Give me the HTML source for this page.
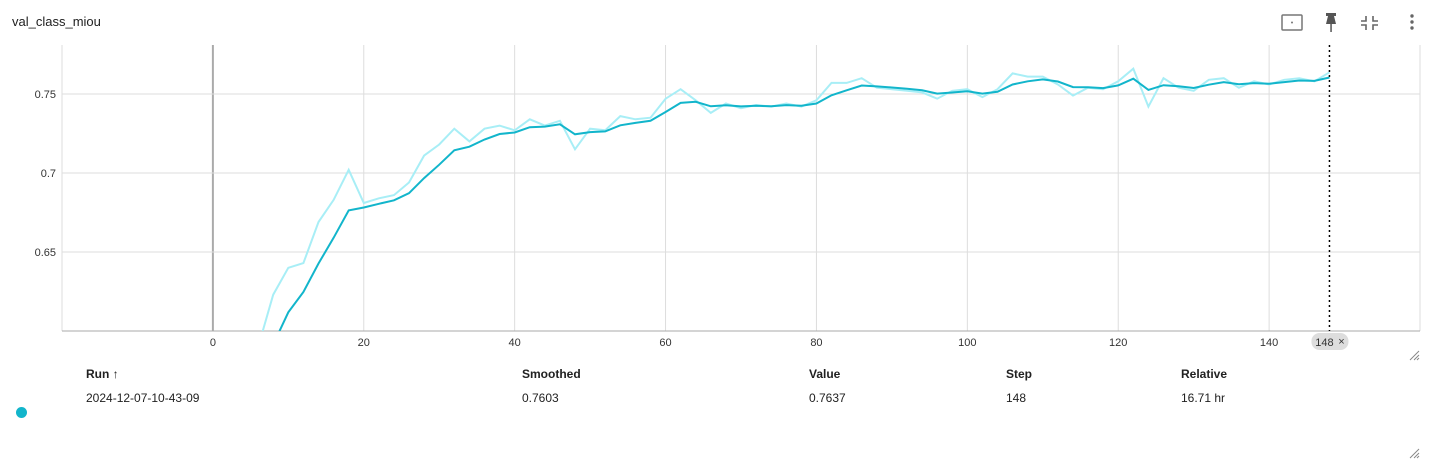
<!DOCTYPE html>
<html><head><meta charset="utf-8"><style>
html,body{margin:0;width:1435px;height:473px;overflow:hidden}
body{background:#fff;font-family:"Liberation Sans",sans-serif;position:relative;color:#212121}
.t{position:absolute;font-size:12px;line-height:14px}
.h{font-weight:bold}
</style></head><body>
<div class="t" style="left:12px;top:15px;font-size:13px">val_class_miou</div>
<svg style="position:absolute;left:1270px;top:0" width="165" height="45">
<g><rect x="12" y="15" width="20" height="15" rx="1" fill="none" stroke="#777" stroke-width="1.5"/><circle cx="22" cy="22.5" r="1" fill="#777"/></g>
<g fill="#555"><rect x="56" y="13" width="10" height="3"/><polygon points="58,16 64,16 66,24 56,24"/><rect x="60.3" y="24" width="1.5" height="8"/></g>
<g stroke="#666" stroke-width="1.6" fill="none"><path d="M91,21h5v-5M103,16v5h5M91,25h5v5M108,25h-5v5"/></g>
<g fill="#666"><circle cx="142" cy="16" r="1.7"/><circle cx="142" cy="22" r="1.7"/><circle cx="142" cy="28" r="1.7"/></g>
</svg>
<svg id="chart" style="position:absolute;left:0;top:0" width="1435" height="360"></svg>
<div class="t h" style="left:86px;top:367px">Run ↑</div>
<div class="t h" style="left:522px;top:367px">Smoothed</div>
<div class="t h" style="left:809px;top:367px">Value</div>
<div class="t h" style="left:1006px;top:367px">Step</div>
<div class="t h" style="left:1181px;top:367px">Relative</div>
<div style="position:absolute;left:16px;top:407px;width:11px;height:11px;border-radius:50%;background:#12b5cb"></div>
<div class="t" style="left:86px;top:391px">2024-12-07-10-43-09</div>
<div class="t" style="left:522px;top:391px">0.7603</div>
<div class="t" style="left:809px;top:391px">0.7637</div>
<div class="t" style="left:1006px;top:391px">148</div>
<div class="t" style="left:1181px;top:391px">16.71 hr</div>
<svg style="position:absolute;left:1407px;top:348px" width="14" height="14"><path d="M3,12L12,3M7,12L12,7M10,12L12,10" stroke="#888" stroke-width="1"/></svg>
<svg style="position:absolute;left:1407px;top:446px" width="14" height="14"><path d="M3,12L12,3M7,12L12,7M10,12L12,10" stroke="#888" stroke-width="1"/></svg>
<script>
const steps=[0,2,4,6,8,10,12,14,16,18,20,22,24,26,28,30,32,34,36,38,40,42,44,46,48,50,52,54,56,58,60,62,64,66,68,70,72,74,76,78,80,82,84,86,88,90,92,94,96,98,100,102,104,106,108,110,112,114,116,118,120,122,124,126,128,130,132,134,136,138,140,142,144,146,148];
const rawValues=[0.50,0.54,0.57,0.59,0.623,0.640,0.643,0.669,0.683,0.702,0.681,0.684,0.686,0.694,0.711,0.718,0.728,0.720,0.728,0.730,0.727,0.734,0.730,0.733,0.715,0.728,0.727,0.736,0.734,0.735,0.747,0.753,0.746,0.738,0.744,0.741,0.743,0.742,0.744,0.742,0.746,0.757,0.757,0.760,0.754,0.753,0.752,0.751,0.747,0.752,0.753,0.748,0.753,0.763,0.761,0.761,0.756,0.749,0.754,0.753,0.758,0.766,0.742,0.760,0.754,0.752,0.759,0.760,0.754,0.758,0.756,0.759,0.760,0.758,0.7637];
const xTicks=[0,20,40,60,80,100,120,140];
const yTicks=[0.65,0.7,0.75];
const smoothingWeight=0.6;
const selectedStep=148;
const NS="http://www.w3.org/2000/svg";
const svg=document.getElementById('chart');
const L=62,R=1420,T=45,B=331;
const xMin=-20,xMax=160,yMin=0.6,yMax=0.781;
const X=s=>L+(s-xMin)/(xMax-xMin)*(R-L);
const Y=v=>B-(v-yMin)/(yMax-yMin)*(B-T);
function mk(tag,attrs){const e=document.createElementNS(NS,tag);for(const k in attrs)e.setAttribute(k,attrs[k]);svg.appendChild(e);return e;}
const defs=mk('defs',{});
const cp=document.createElementNS(NS,'clipPath');cp.setAttribute('id','clip');
const cr=document.createElementNS(NS,'rect');cr.setAttribute('x',L);cr.setAttribute('y',T);cr.setAttribute('width',R-L);cr.setAttribute('height',B-T);cp.appendChild(cr);defs.appendChild(cp);
for(let s=xMin;s<=xMax;s+=20){const g=mk('line',{x1:X(s),x2:X(s),y1:T,y2:B,stroke:s===0?'#aaa':'#ddd','stroke-width':s===0?2:1});

}
yTicks.forEach(v=>{const g=mk('line',{x1:L,x2:R,y1:Y(v),y2:Y(v),stroke:'#ddd','stroke-width':1});


const t=mk('text',{x:56,y:Y(v)+4,'text-anchor':'end','font-size':11,fill:'#333','font-family':'Liberation Sans'});t.textContent=String(v);

});
const ax=mk('line',{x1:L,x2:R,y1:B,y2:B,stroke:'#aaa','stroke-width':1});


xTicks.forEach(s=>{const t=mk('text',{x:X(s),y:346,'text-anchor':'middle','font-size':11,fill:'#333','font-family':'Liberation Sans'});t.textContent=String(s);

});
const smoothed=[];let last=0;rawValues.forEach((v,i)=>{last=last*smoothingWeight+(1-smoothingWeight)*v;smoothed.push(last/(1-Math.pow(smoothingWeight,i+1)));});
const pts=a=>a.map((v,i)=>X(steps[i]).toFixed(1)+','+Y(v).toFixed(1)).join(' ');
const rl=mk('polyline',{points:pts(rawValues),fill:'none',stroke:'#a8eef6','stroke-width':2,'clip-path':'url(#clip)'});


const sl=mk('polyline',{points:pts(smoothed),fill:'none',stroke:'#12b5cb','stroke-width':2,'clip-path':'url(#clip)'});


const cx=X(selectedStep);
const dl=mk('line',{x1:cx,x2:cx,y1:T,y2:B,stroke:'#000','stroke-width':1.5,'stroke-dasharray':'2,3'});


const chip=mk('rect',{x:cx-18,y:333,width:37,height:17,rx:8,fill:'#ddd'});


const ct=mk('text',{x:cx-5,y:346,'text-anchor':'middle','font-size':11,fill:'#333','font-family':'Liberation Sans'});ct.textContent=String(selectedStep);


const cxx=mk('text',{x:cx+12,y:345,'text-anchor':'middle','font-size':11,fill:'#333','font-family':'Liberation Sans'});cxx.textContent='×';


</script>
</body></html>
